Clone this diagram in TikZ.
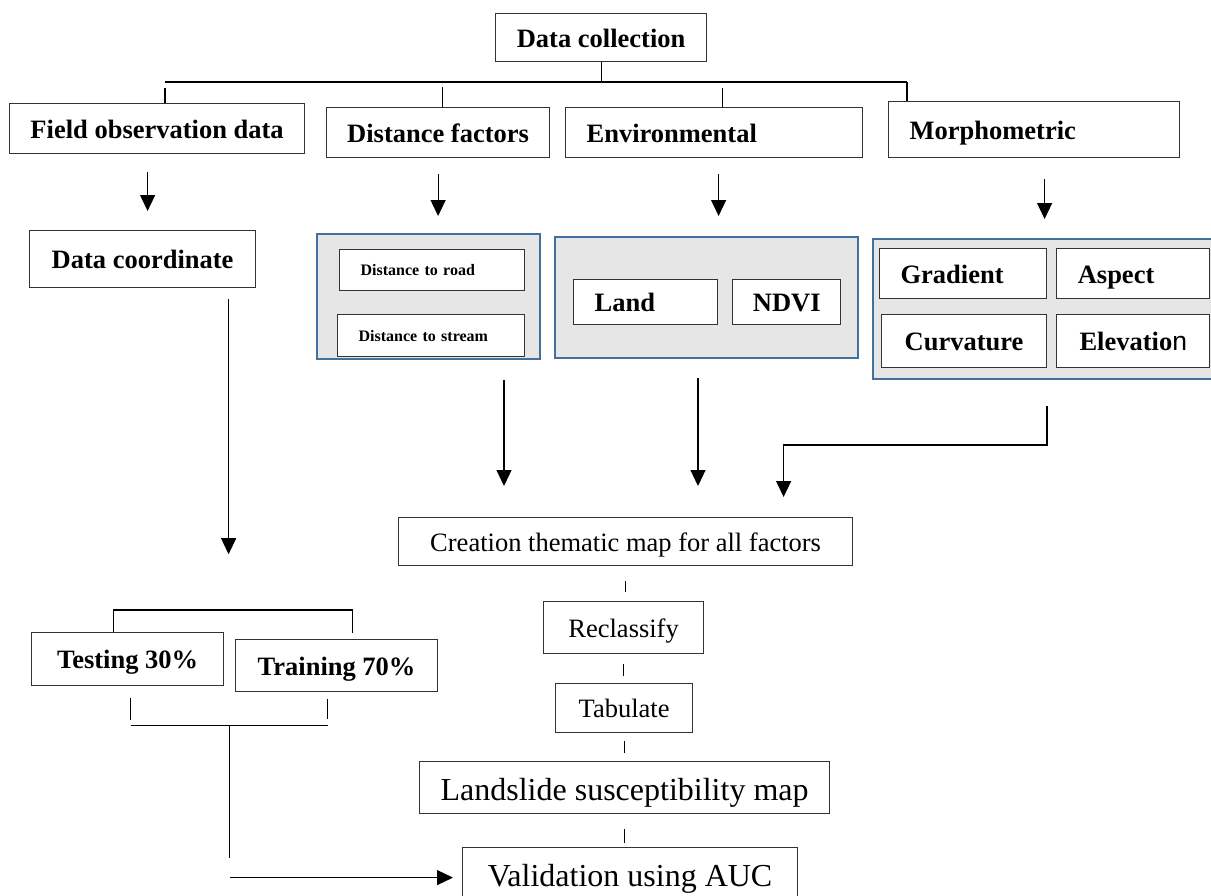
\documentclass[tikz,border=0pt]{standalone}
\usepackage{fontspec}
\setmainfont{Liberation Serif}
\newfontfamily\altsans{Liberation Sans}
\usepackage{xcolor}
\definecolor{GroupBlue}{HTML}{41719C}
\definecolor{GroupGray}{HTML}{E6E6E6}
\usetikzlibrary{arrows.meta, positioning}

\begin{document}
\begin{tikzpicture}[
  x=1pt, y=-1pt,
  font=\fontsize{26.5}{30}\selectfont,
  box/.style 2 args={
    draw=black!80, fill=white, line width=1.2pt, anchor=north west,
    minimum width=#1pt, minimum height=#2pt, inner ysep=0pt,
    text height=19pt, text depth=0pt,
    font=\fontsize{26.5}{30}\selectfont\bfseries
  },
  pad/.style={align=left, inner xsep=21pt, text width=#1},
  plain/.style={font=\fontsize{26.5}{30}\selectfont},
  big/.style={font=\fontsize{32}{36}\selectfont, text height=26pt},
  small/.style={font=\fontsize{16}{19}\selectfont\bfseries, text height=11pt},
  group/.style 2 args={
    draw=GroupBlue, fill=GroupGray, line width=2pt, anchor=north west,
    minimum width=#1pt, minimum height=#2pt, inner sep=0pt
  },
  arr/.style={-{Triangle[length=16pt, width=15pt]}, line width=1.2pt},
  link/.style={line width=1.2pt},
]
\useasboundingbox (0,0) rectangle (1211,895);

% top row
\node[box={211}{48}] (datacoll) at (495,13) {Data collection};
\node[box={295}{50}] (field) at (9,103) {Field observation data};
\node[box={223}{50}] (distf) at (326,107) {Distance factors};
\node[box={297}{50}, pad=255pt] (env) at (565,107) {Environmental};
\node[box={291}{56}, pad=249pt] (morph) at (888,101) {Morphometric};

\node[box={226}{57}] (dcoord) at (29,230) {Data coordinate};

% factor groups
\node[group={223}{125}] (gdist) at (316,233) {};
\node[group={303}{121}] (genv) at (554,236) {};
\node[group={360}{140}] (gmorph) at (872,238) {};

\node[box={185}{41}, small, pad=143pt] (road) at (339,249) {Distance to road};
\node[box={187}{42}, small, pad=145pt] (stream) at (337,314) {Distance to stream};
\node[box={144}{45}, pad=102pt] (land) at (573,279) {Land};
\node[box={108}{45}, right=14pt of land] (ndvi) {NDVI};
\node[box={167}{50}, pad=125pt] (grad) at (879,248) {Gradient};
\node[box={153}{50}, pad=111pt, right=9pt of grad] (aspect) {Aspect};
\node[box={165}{53}] (curv) at (881,314) {Curvature};
\node[box={153}{53}, right=9pt of curv] (elev) {Elevatio{\altsans\mdseries n}};

% processing chain
\node[box={454}{48}, plain] (creation) at (398,517) {Creation thematic map for all factors};
\node[box={160}{52}, plain] (reclass) at (543,601) {Reclassify};
\node[box={137}{49}, plain] (tabulate) at (555,683) {Tabulate};
\node[box={410}{52}, big] (lsm) at (419,761) {Landslide susceptibility map};
\node[box={335}{52}, big] (valid) at (462,847) {Validation using AUC};

% sample split
\node[box={192}{53}] (testing) at (31,632) {Testing 30\%};
\node[box={202}{52}] (training) at (235,639) {Training 70\%};

% tree below data collection
\coordinate (busL) at (165,82);
\coordinate (busR) at (907,82);
\draw[link] (datacoll.south) -- (datacoll.south |- busL);
\draw[link] (busL) -- (busR);
\draw[link] (busR) -- (busR |- morph.north);
\draw[link] ([yshift=-6pt]busL) -- (busL |- field.north);
\draw[link] ([xshift=4.5pt]distf.north) -- ++(0,-20);
\draw[link] ([xshift=8.5pt]env.north) -- ++(0,-19);

% down to the factors
\draw[arr, shorten <=18pt, shorten >=19pt] ([xshift=-9.5pt]field.south) -- ([xshift=-9.5pt]field.south |- dcoord.north);
\draw[arr, shorten <=16pt, shorten >=17pt] (distf.south) -- (distf.south |- gdist.north);
\draw[arr, shorten <=16pt, shorten >=20pt] ([xshift=4.5pt]env.south) -- ([xshift=4.5pt]env.south |- genv.north);
\draw[arr, shorten <=21pt, shorten >=19pt] ([xshift=10.5pt]morph.south) -- ([xshift=10.5pt]morph.south |- gmorph.north);
\draw[arr, shorten <=11pt] ([xshift=86pt]dcoord.south) -- ++(0,266);

% factors to thematic map
\draw[arr, shorten <=20pt, shorten >=31pt] ([xshift=75.5pt]gdist.south) -- ([xshift=75.5pt]gdist.south |- creation.north);
\draw[arr, shorten <=19pt, shorten >=31pt] ([xshift=-8.5pt]genv.south) -- ([xshift=-8.5pt]genv.south |- creation.north);
\draw[arr] ([xshift=-6pt,yshift=-26pt]gmorph.south) -- ++(0,39) -| ([xshift=158pt,yshift=20pt]creation.north);

% chain
\draw[link, shorten <=15pt, shorten >=9pt] (creation.south) -- (creation.south |- reclass.north);
\draw[link, shorten <=10pt, shorten >=7pt] (reclass.south) -- (reclass.south |- tabulate.north);
\draw[link, shorten <=8pt, shorten >=8pt] (tabulate.south) -- (tabulate.south |- lsm.north);
\draw[link, shorten <=15pt, shorten >=4pt] (lsm.south) -- (lsm.south |- valid.north);

% split brackets
\draw[link] ([xshift=-14pt]testing.north) |- ([xshift=16pt,yshift=29pt]training.north) -- ([xshift=16pt,yshift=6pt]training.north);
\draw[link] ([xshift=3pt,yshift=-12pt]testing.south) -- ++(0,22);
\draw[link] ([xshift=-9pt,yshift=-7pt]training.south) -- ++(0,20);
\draw[link] ([xshift=3pt,yshift=-39pt]testing.south) -- ([xshift=-9pt,yshift=-33pt]training.south);
\draw[link] ([xshift=102pt,yshift=-39pt]testing.south) -- ++(0,133);
\draw[arr] ([xshift=-232pt,yshift=-4pt]valid.west) -- ([xshift=-9pt,yshift=-4pt]valid.west);

\end{tikzpicture}
\end{document}
